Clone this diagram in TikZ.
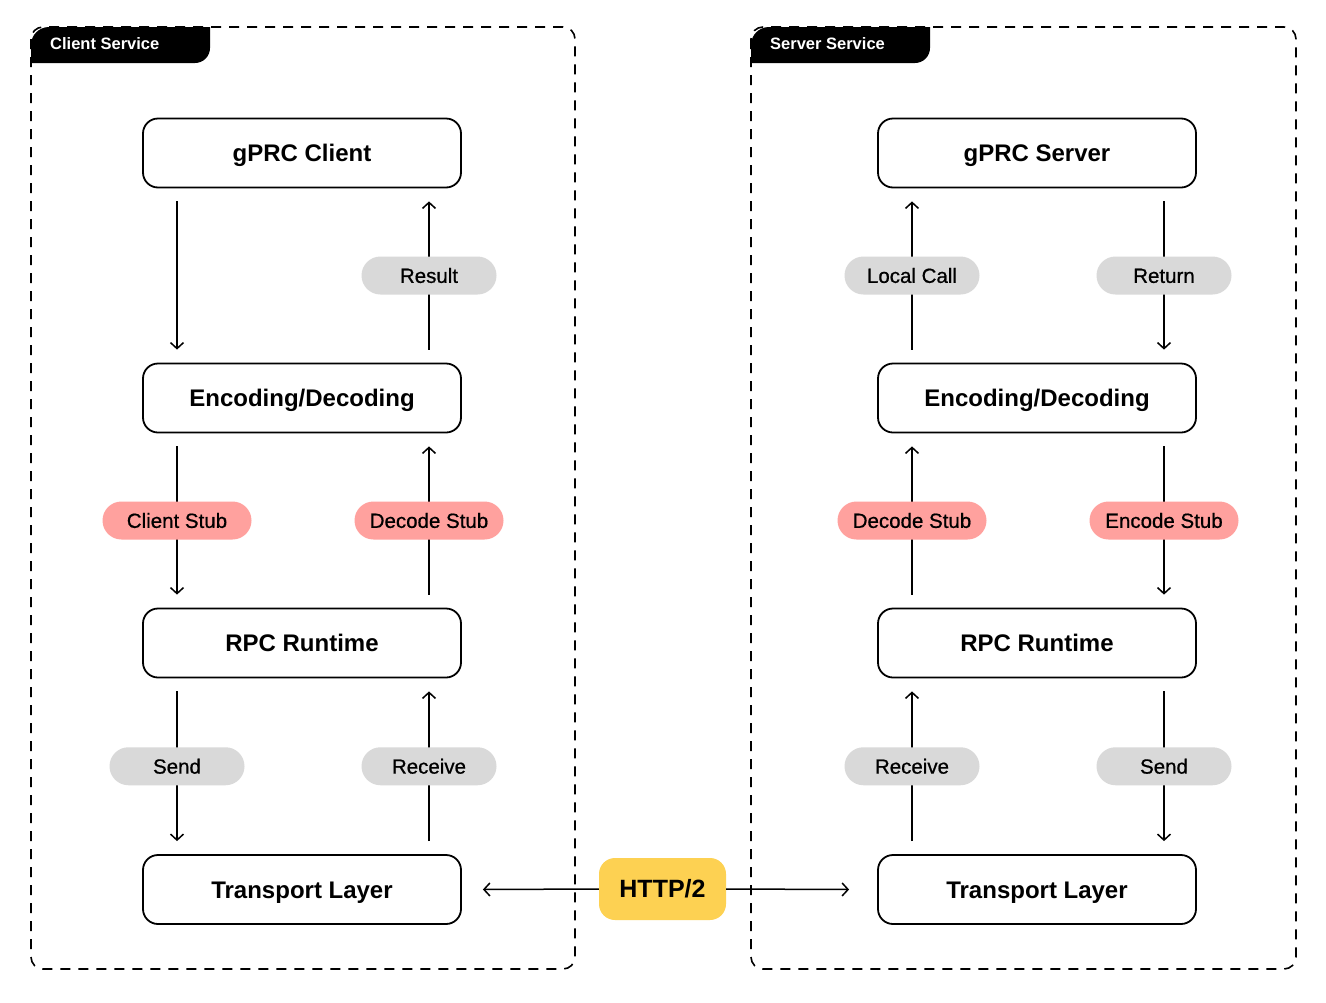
\documentclass[tikz,border=0pt]{standalone}
\usepackage{fontspec}
\setmainfont{Liberation Sans}
\newfontfamily\medfont{Liberation Sans}[FakeBold=0.7]
\usetikzlibrary{arrows.meta,calc}
\definecolor{pillgray}{HTML}{D9D9D9}
\definecolor{pillred}{HTML}{FFA19E}
\definecolor{httpyellow}{HTML}{FDD152}
\tikzset{
  box/.style={draw, line width=1.8pt, rounded corners=15pt, minimum width=318pt, minimum height=69pt, inner sep=0pt, text height=17.2pt, text depth=0pt, font=\fontsize{24}{28}\selectfont\bfseries},
  pill/.style={fill=#1, rounded corners=19pt, minimum width=135pt, minimum height=38pt, inner sep=0pt, text height=14.7pt, text depth=0pt, font=\fontsize{20.5}{24}\medfont},
  redpill/.style={pill=pillred, minimum width=149pt},
  arr/.style={line width=1.5pt, -{Straight Barb[length=6pt,width=13pt,line width=1.5pt]}},
  dashbox/.style={line width=1.6pt, dash pattern=on 10pt off 8pt, rounded corners=12pt},
  tabtext/.style={anchor=west, text=white, inner sep=0pt, text height=11.8pt, text depth=0pt, font=\fontsize{16.5}{20}\selectfont\bfseries},
  http/.style={fill=httpyellow, rounded corners=16pt, minimum width=127pt, minimum height=62pt, inner sep=0pt, text height=17.9pt, text depth=0pt, font=\fontsize{25}{30}\selectfont\bfseries}
}
\begin{document}
\begin{tikzpicture}[x=1pt,y=-1pt]
\useasboundingbox (0,0) rectangle (1326,1002);
\fill[white] (0,0) rectangle (1326,1002);

% containers
\draw[dashbox] (31,27) rectangle (575,969);
\draw[dashbox] (751,27) rectangle (1296,969);
\fill (31,63) -- (31,45) arc[start angle=180, end angle=90, radius=18pt] -- (210,27) -- (210,48) arc[start angle=0, end angle=-90, radius=15pt] -- cycle;
\fill (751,63) -- (751,45) arc[start angle=180, end angle=90, radius=18pt] -- (930,27) -- (930,48) arc[start angle=0, end angle=-90, radius=15pt] -- cycle;
\node[tabtext] (tabc) at (50,44) {Client Service};
\node[tabtext] (tabs) at (770,44) {Server Service};

% client boxes
\node[box] (c1) at (302,153) {gPRC Client};
\node[box] (c2) at (302,398) {Encoding/Decoding};
\node[box] (c3) at (302,643) {RPC Runtime};
\node[box] (c4) at (302,889.5) {Transport Layer};
% server boxes
\node[box] (s1) at (1037,153) {gPRC Server};
\node[box] (s2) at (1037,398) {Encoding/Decoding};
\node[box] (s3) at (1037,643) {RPC Runtime};
\node[box] (s4) at (1037,889.5) {Transport Layer};

\coordinate (cl) at (177,0);
\coordinate (cr) at (429,0);
\coordinate (sl) at (912,0);
\coordinate (sr) at (1164,0);

% client connectors
\draw[arr] ($(c1.south -| cl)+(0,13)$) -- ($(c2.north -| cl)-(0,13)$);
\draw[arr] ($(c2.north -| cr)-(0,13)$) -- node[pill=pillgray] (lres) {Result} ($(c1.south -| cr)+(0,13)$);
\draw[arr] ($(c2.south -| cl)+(0,13)$) -- node[redpill] (lcs) {Client Stub} ($(c3.north -| cl)-(0,13)$);
\draw[arr] ($(c3.north -| cr)-(0,13)$) -- node[redpill] (lds) {Decode Stub} ($(c2.south -| cr)+(0,13)$);
\draw[arr] ($(c3.south -| cl)+(0,13)$) -- node[pill=pillgray] (lsend) {Send} ($(c4.north -| cl)-(0,13)$);
\draw[arr] ($(c4.north -| cr)-(0,13)$) -- node[pill=pillgray] (lrec) {Receive} ($(c3.south -| cr)+(0,13)$);

% server connectors
\draw[arr] ($(s2.north -| sl)-(0,13)$) -- node[pill=pillgray] (rlc) {Local Call} ($(s1.south -| sl)+(0,13)$);
\draw[arr] ($(s1.south -| sr)+(0,13)$) -- node[pill=pillgray] (rret) {Return} ($(s2.north -| sr)-(0,13)$);
\draw[arr] ($(s3.north -| sl)-(0,13)$) -- node[redpill] (rds) {Decode Stub} ($(s2.south -| sl)+(0,13)$);
\draw[arr] ($(s2.south -| sr)+(0,13)$) -- node[redpill] (res) {Encode Stub} ($(s3.north -| sr)-(0,13)$);
\draw[arr] ($(s4.north -| sl)-(0,13)$) -- node[pill=pillgray] (rrec) {Receive} ($(s3.south -| sl)+(0,13)$);
\draw[arr] ($(s3.south -| sr)+(0,13)$) -- node[pill=pillgray] (rsend) {Send} ($(s4.north -| sr)-(0,13)$);

% HTTP/2
\node[http] (h) at (662.5,889) {HTTP/2};
\draw[arr] (h.west) -- ($(c4.east)+(21,0)$);
\draw[arr] (h.east) -- ($(s4.west)-(28,0)$);
\end{tikzpicture}
\end{document}
